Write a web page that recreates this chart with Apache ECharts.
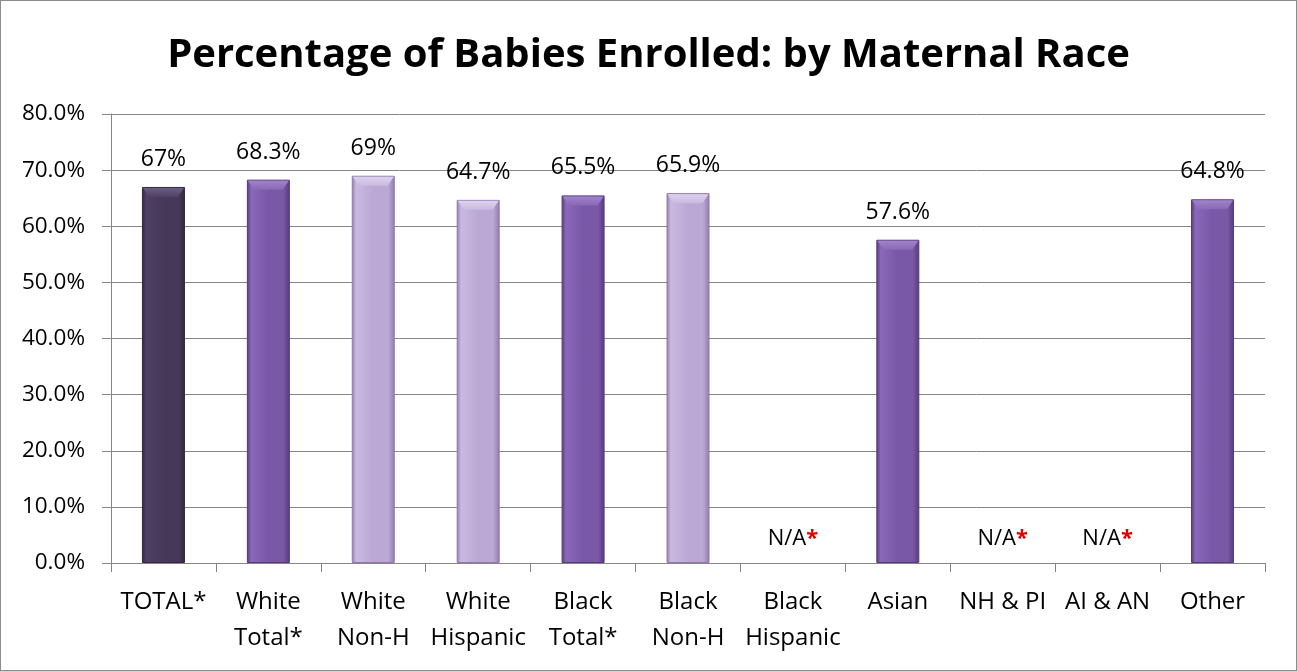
<!DOCTYPE html>
<html><head><meta charset="utf-8">
<script src="https://cdn.jsdelivr.net/npm/echarts@6/dist/echarts.min.js"></script>
<style>
html,body{margin:0;padding:0;background:#fff;}
#c{position:absolute;left:0;top:0;width:1297px;height:671px;box-sizing:border-box;border:1px solid #8c8c8c;}
</style></head><body>
<div id="c"></div>
<script>
const categories = ['TOTAL*\n', 'White\nTotal*', 'White\nNon-H', 'White\nHispanic', 'Black\nTotal*', 'Black\nNon-H', 'Black\nHispanic', 'Asian\n', 'NH & PI\n', 'AI & AN\n', 'Other\n'];
const values = [67, 68.3, 69, 64.7, 65.5, 65.9, null, 57.6, null, null, 64.8];
const valueLabels = ['67%', '68.3%', '69%', '64.7%', '65.5%', '65.9%', 'N/A', '57.6%', 'N/A', 'N/A', '64.8%'];
const shades = ['dark', 'mid', 'light', 'light', 'mid', 'light', 'mid', 'mid', 'mid', 'mid', 'mid'];

const FONT = '"Open Sans", sans-serif';
const palette = {
  dark: {edge:'#33283f', side:'#4f4064', body:'#463858', top:'#6b5c82'},
  mid: {edge:'#553a7a', side:'#8a68b8', body:'#7a58a8', top:'#9f84c8'},
  light: {edge:'#8f7bab', side:'#c9b9e0', body:'#bba8d4', top:'#ddd2ee'}
};
function grad(k){
  const p = palette[k];
  return {type:'linear', x:0, y:0, x2:1, y2:0, colorStops:[
    {offset:0, color:p.edge},{offset:0.1, color:p.side},{offset:0.5, color:p.body},{offset:0.85, color:p.body},{offset:1, color:p.edge}]};
}
const labelStyle = {color:'#000', fontSize:23, fontFamily:FONT};
const data = values.map((v, i) => {
  if (v === null) {
    return {value: 0, itemStyle:{color:'rgba(0,0,0,0)', borderWidth:0}, label:{show:true, position:'top', distance:13,
      formatter:'{a|N/A}{r|*}', rich:{a:Object.assign({}, labelStyle, {fontSize:22}), r:{color:'#e00000', fontSize:22, fontWeight:'bold', fontFamily:FONT}}}};
  }
  return {value: v, itemStyle:{color: grad(shades[i]), borderColor:palette[shades[i]].edge, borderWidth:1},
    label:Object.assign({show:true, position:'top', distance:16, formatter: valueLabels[i]}, labelStyle)};
});
const bevelData = values.map((v, i) => [i, v === null ? 0 : v, v === null ? 0 : 1]);

const chart = echarts.init(document.getElementById('c'));
chart.setOption({
  animation:false,
  title:{text:'Percentage of Babies Enrolled: by Maternal Race', left:'center', top:30,
    textStyle:{fontFamily:FONT, fontWeight:'bold', fontSize:40, color:'#000'}},
  grid:{left:110, right:31, top:113, bottom:107, containLabel:false},
  xAxis:{type:'category', data:categories,
    axisLine:{lineStyle:{color:'#868686', width:1}},
    axisTick:{show:true, length:9, lineStyle:{color:'#868686'}},
    axisLabel:{color:'#000', fontSize:24, fontFamily:FONT, lineHeight:36, margin:21, interval:0}},
  yAxis:{type:'value', min:0, max:80, interval:10,
    axisLine:{show:true, lineStyle:{color:'#868686'}},
    axisTick:{show:true, length:9, lineStyle:{color:'#868686'}},
    splitLine:{lineStyle:{color:'#868686', width:1}},
    axisLabel:{color:'#000', fontSize:22.5, fontFamily:FONT, margin:26, formatter: v => v.toFixed(1) + '%'}},
  series:[
    {type:'bar', data:data, barWidth:43},
    {type:'custom', silent:true, z:3, data:bevelData,
      renderItem:function(params, api){
        if (!api.value(2)) return null;
        const i = api.value(0);
        const top = api.coord([i, api.value(1)]);
        const w = 43, b = 7, h = 10;
        const x0 = top[0] - w/2, x1 = top[0] + w/2, y0 = top[1];
        const p = palette[shades[i]];
        return {type:'polygon', shape:{points:[[x0+1,y0+1],[x1-1,y0+1],[x1-b,y0+h],[x0+b,y0+h]]},
          style:{fill:{type:'linear', x:0, y:0, x2:0, y2:1, colorStops:[{offset:0, color:p.top},{offset:1, color:p.side}]}}};
      }}
  ]
});
</script></body></html>
